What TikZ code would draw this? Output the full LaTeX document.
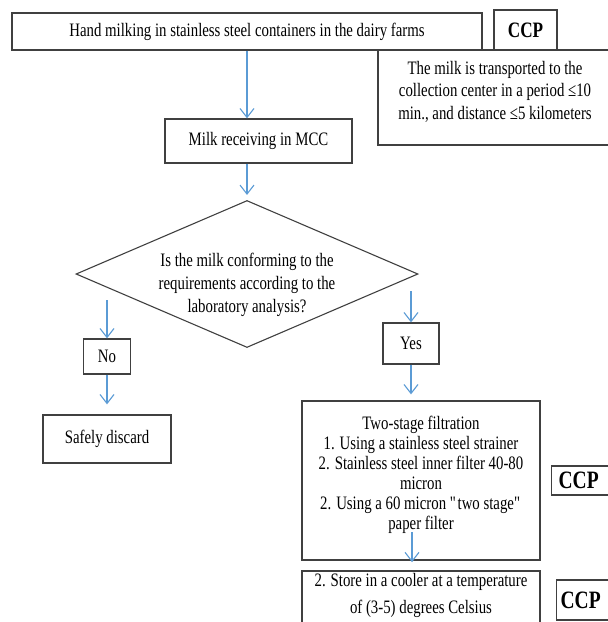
\documentclass[tikz,border=0pt]{standalone}
\usepackage{fontspec}
\setmainfont{Liberation Serif}[FakeStretch=0.78]
\usetikzlibrary{arrows.meta,shapes.geometric}

\definecolor{flowblue}{RGB}{91,155,213}
\definecolor{boxgray}{RGB}{64,64,64}
\tikzset{
  box/.style={draw=boxgray, line width=1.3pt, fill=white, align=center, inner sep=2pt, font={\fontsize{19}{20}\selectfont}},
  ccp/.style={box, font={\bfseries\fontsize{22}{24}\selectfont}},
  flow/.style={draw=flowblue, line width=1.1pt, -{Straight Barb[length=9pt,width=14pt]}},
}

\begin{document}
\begin{tikzpicture}[x=1pt,y=-1pt]
        \clip (0,0) rectangle (608,622);
        \node[box, minimum width=470, minimum height=37] (milking) at (247,31.5) {Hand milking in stainless steel containers in the dairy farms};
        \node[box, minimum width=234, minimum height=95, font={\fontsize{19}{22.5}\selectfont}] (transport) at (495,97.5) {The milk is transported to the\\collection center in a period ≤10\\min., and distance ≤5 kilometers\\[-14.5pt]\strut};
        \node[ccp, minimum width=63, minimum height=40] (ccptop) at (525.5,30) {CCP};
        \node[box, minimum width=187, minimum height=44] (mcc) at (258.5,141) {Milk receiving in MCC};
        \node[diamond, draw=boxgray, line width=1.1pt, aspect=2.33, inner sep=0pt, minimum width=342, minimum height=147, font={\fontsize{19}{23}\selectfont}] (check) at (247,274) {\raisebox{-15pt}[0pt][0pt]{\begin{tabular}{@{}c@{}}Is the milk conforming to the\\requirements according to the\\laboratory analysis?\end{tabular}}};
        \node[box, minimum width=47, minimum height=35] (no) at (107,356.5) {No};
        \node[box, minimum width=128, minimum height=48] (discard) at (107,439) {Safely discard};
        \node[box, minimum width=56, minimum height=41] (yes) at (411,343.5) {Yes};
        \node[box, minimum width=238, minimum height=159] (filt) at (421,480.5) {Two-stage filtration\\1. Using a stainless steel strainer\\2. Stainless steel inner filter 40-80\\micron\\2. Using a 60 micron \textquotedbl two stage\textquotedbl\\paper filter\\[-10pt]\strut};
        \node[box, minimum width=238, minimum height=69, font={\fontsize{19}{27}\selectfont}] (store) at (421,605.5) {2. Store in a cooler at a temperature\\of (3-5) degrees Celsius\\[-10pt]\strut};
        \node[ccp, anchor=west, text width=60, inner xsep=7pt, minimum height=29, align=left, font={\bfseries\fontsize{25}{26}\selectfont}] (ccpmid) at (551,480.5) {CCP};
        \node[ccp, anchor=west, text width=60, inner xsep=4pt, minimum height=40, align=left, font={\bfseries\fontsize{25}{26}\selectfont}] (ccpbot) at (556,600) {CCP};

        \coordinate (nofrom) at (107,300);
        \coordinate (yesfrom) at (411,291);
        \coordinate (filtout) at (412,532);
        \draw[flow] (milking.south) -- (milking.south |- mcc.north);
        \draw[flow, shorten >=5pt] (mcc.south -| check.north) -- (check.north);
        \draw[flow] (nofrom) -- (no.north);
        \draw[flow, shorten >=10pt] (no) -- (discard);
        \draw[flow] (yesfrom) -- (yes.north);
        \draw[flow, shorten >=6pt] (yes.south) -- (yes.south |- filt.north);
        \draw[flow, shorten >=8pt] (filtout) -- (filtout |- store.north);
\end{tikzpicture}
\end{document}
